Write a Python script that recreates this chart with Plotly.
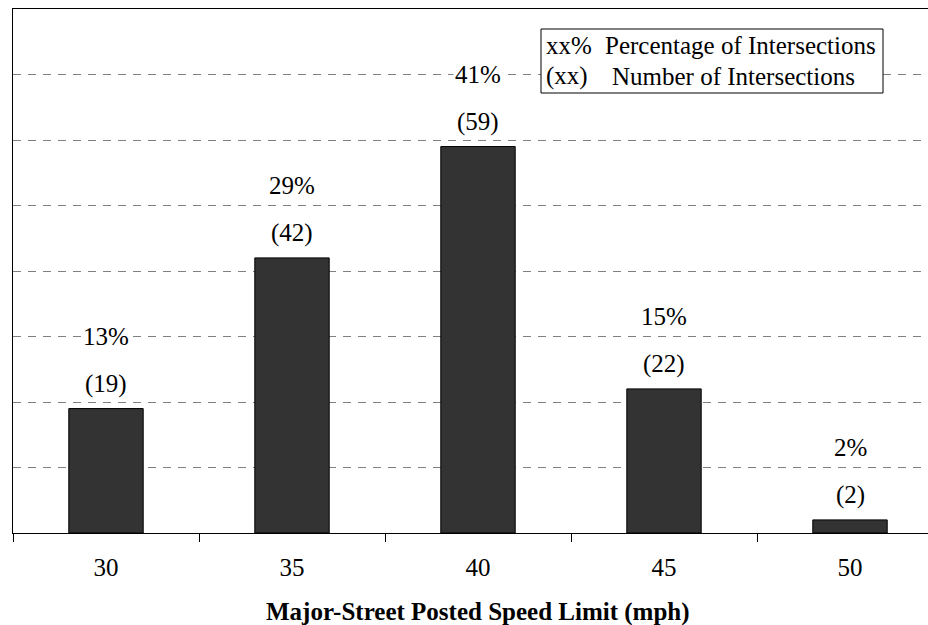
import plotly.graph_objects as go

# Intersections by major-street posted speed limit
speed_limits = ["30", "35", "40", "45", "50"]
intersections = [19, 42, 59, 22, 2]
percent_labels = [13, 29, 41, 15, 2]

W, H = 928, 625
L, R, T, B = 13, 0, 9, 92
plot_w = W - L - R
plot_h = H - T - B
cat_px = 186  # pixel width of one category slot

FONT = "Liberation Serif, Times New Roman, serif"
FS = 25


def px_x(px):
    return (px - L) / plot_w


def px_y(py):
    return (H - B - py) / plot_h


fig = go.Figure()
fig.add_trace(go.Bar(
    x=speed_limits,
    y=intersections,
    width=0.4,
    marker=dict(color="#333333", line=dict(color="#000000", width=1)),
    hoverinfo="x+y",
))

annotations = []
for i, (n, pct) in enumerate(zip(intersections, percent_labels)):
    # category axis: position the labels by category index
    annotations.append(dict(
        x=i, y=n, xref="x", yref="y", text=f"({n})", showarrow=False,
        yanchor="middle", yshift=25, bgcolor="white", borderpad=1,
        font=dict(family=FONT, size=FS, color="black"),
    ))
    annotations.append(dict(
        x=i, y=n, xref="x", yref="y", text=f"{pct}%", showarrow=False,
        yanchor="middle", yshift=72, bgcolor="white", borderpad=1,
        font=dict(family=FONT, size=FS, color="black"),
    ))

# key box explaining the two label formats
key_rows = [
    ("xx%", "Percentage of Intersections", 45, 603),
    ("(xx)", "Number of Intersections", 76, 610),
]
for sym, desc, cy, dx in key_rows:
    annotations.append(dict(
        x=px_x(544), y=px_y(cy), xref="paper", yref="paper", text=sym,
        showarrow=False, xanchor="left", yanchor="middle",
        font=dict(family=FONT, size=FS, color="black"),
    ))
    annotations.append(dict(
        x=px_x(dx), y=px_y(cy), xref="paper", yref="paper", text=desc,
        showarrow=False, xanchor="left", yanchor="middle",
        font=dict(family=FONT, size=FS, color="black"),
    ))

annotations.append(dict(
    x=px_x(L + 2.5 * cat_px), y=px_y(612), xref="paper", yref="paper",
    text="<b>Major-Street Posted Speed Limit (mph)</b>", showarrow=False,
    xanchor="center", yanchor="middle",
    font=dict(family=FONT, size=FS, color="black"),
))

fig.update_layout(
    width=W, height=H,
    margin=dict(l=L, r=R, t=T, b=B, pad=0),
    paper_bgcolor="white", plot_bgcolor="white",
    showlegend=False,
    bargap=0.6,
    annotations=annotations,
    shapes=[dict(
        type="rect", xref="paper", yref="paper",
        x0=px_x(541), x1=px_x(883), y0=px_y(93), y1=px_y(29),
        line=dict(color="black", width=1), fillcolor="white", layer="above",
    )],
    xaxis=dict(
        type="category",
        range=[-0.5, -0.5 + plot_w / cat_px],
        showline=True, linecolor="black", linewidth=1, mirror=True,
        ticks="outside", tickson="boundaries", ticklen=8, tickcolor="black",
        ticklabelstandoff=12,
        tickfont=dict(family=FONT, size=FS, color="black"),
        showgrid=False, zeroline=False,
    ),
    yaxis=dict(
        range=[0, 80], dtick=10, tick0=0,
        showticklabels=False, ticks="",
        showline=True, linecolor="black", linewidth=1,
        showgrid=True, gridcolor="#808080", gridwidth=1, griddash="8px,7px",
        zeroline=False,
    ),
)

fig.write_html("out.html")
